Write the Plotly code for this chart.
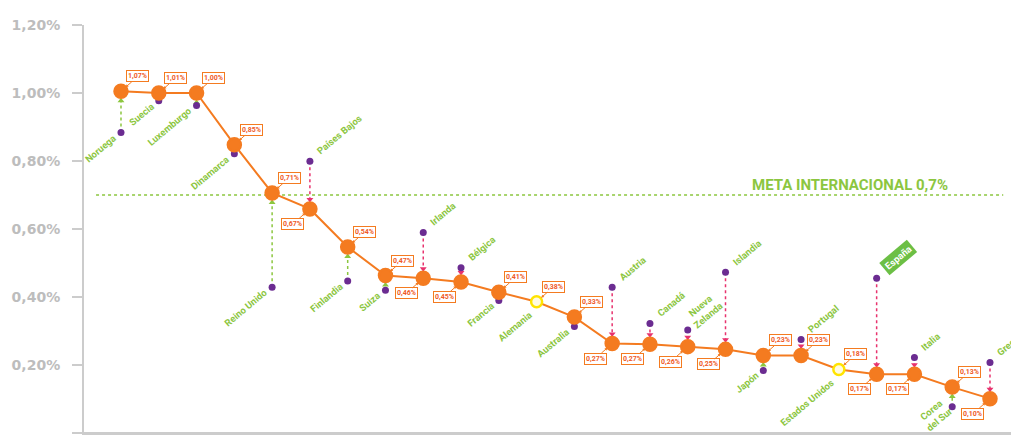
import plotly.graph_objects as go

# ---------------- data ----------------
countries = ["Noruega", "Suecia", "Luxemburgo", "Dinamarca", "Reino Unido", "Países Bajos",
             "Finlandia", "Suiza", "Irlanda", "Bélgica", "Francia", "Alemania", "Australia",
             "Austria", "Canadá", "Nueva<br>Zelanda", "Islandia", "Japón", "Portugal",
             "Estados Unidos", "España", "Italia", "Corea<br>del Sur", "Grecia"]
current = [1.005, 1.00, 1.00, 0.848, 0.706, 0.659, 0.547, 0.463, 0.455, 0.444, 0.414, 0.386,
           0.341, 0.263, 0.261, 0.254, 0.246, 0.228, 0.228, 0.187, 0.173, 0.173, 0.135, 0.101]
previous = [0.884, 0.977, 0.963, 0.821, 0.429, 0.799, 0.447, 0.420, 0.590, 0.486, 0.390, None,
            0.313, 0.429, 0.322, 0.303, 0.473, 0.184, 0.275, None, 0.455, 0.222, 0.077, 0.207]
value_labels = ["1,07%", "1,01%", "1,00%", "0,85%", "0,71%", "0,67%", "0,54%", "0,47%",
                "0,46%", "0,45%", "0,41%", "0,38%", "0,33%", "0,27%", "0,27%", "0,26%",
                "0,25%", "0,23%", "0,23%", "0,18%", "0,17%", "0,17%", "0,13%", "0,10%"]
highlight = "España"
meta_value = 0.70
meta_text = "META INTERNACIONAL 0,7%"
y_tickvals = [0, 0.2, 0.4, 0.6, 0.8, 1.0, 1.2]
y_ticktext = ["0", "0,20%", "0,40%", "0,60%", "0,80%", "1,00%", "1,20%"]

# ---------------- styles ----------------
ORANGE = "#f47b20"
PURPLE = "#6b2c91"
GREEN = "#8cc63f"
PINK = "#e8336e"
LABEL_RED = "#ef5a28"
AXIS_GRAY = "#cccccc"
PX_PER_UNIT = 340.4
head_off = 9.5 / PX_PER_UNIT
VALUE_LABEL_ABOVE = {"Portugal"}   # value box placed above-right despite a decrease

x = list(range(len(countries)))
fig = go.Figure()

# arrows (dotted lines from previous value to current)
gx, gy, px_, py_ = [], [], [], []
ghx, ghy, phx, phy = [], [], [], []
for i, (c, p) in enumerate(zip(current, previous)):
    if p is None or abs(c - p) < 0.035:
        continue
    if p < c:
        gx += [i, i, None]; gy += [p, c - head_off, None]
        ghx.append(i); ghy.append(c - head_off)
    else:
        px_ += [i, i, None]; py_ += [p, c + head_off, None]
        phx.append(i); phy.append(c + head_off)

fig.add_trace(go.Scatter(x=gx, y=gy, mode="lines", line=dict(color=GREEN, width=1.5, dash="dot"),
                         hoverinfo="skip", showlegend=False))
fig.add_trace(go.Scatter(x=px_, y=py_, mode="lines", line=dict(color=PINK, width=1.5, dash="dot"),
                         hoverinfo="skip", showlegend=False))
fig.add_trace(go.Scatter(x=ghx, y=ghy, mode="markers",
                         marker=dict(symbol="triangle-up", size=6, color=GREEN, opacity=1),
                         hoverinfo="skip", showlegend=False))
fig.add_trace(go.Scatter(x=phx, y=phy, mode="markers",
                         marker=dict(symbol="triangle-down", size=6, color=PINK, opacity=1),
                         hoverinfo="skip", showlegend=False))

# previous values (purple dots)
fig.add_trace(go.Scatter(x=[i for i, p in enumerate(previous) if p is not None],
                         y=[p for p in previous if p is not None], mode="markers",
                         marker=dict(size=7, color=PURPLE, opacity=1),
                         hoverinfo="skip", showlegend=False))

# current values line + dots
mcol = [ORANGE if p is not None else "#fffbe0" for p in previous]
mline = [ORANGE if p is not None else "#ffe400" for p in previous]
msize = [13 if p is not None else 11 for p in previous]
fig.add_trace(go.Scatter(x=x, y=current, mode="lines+markers",
                         line=dict(color=ORANGE, width=2),
                         marker=dict(size=msize, color=mcol, opacity=1,
                                     line=dict(color=mline, width=2.5)),
                         hoverinfo="skip", showlegend=False))

annotations = []
for i, (name, c, p, lab) in enumerate(zip(countries, current, previous, value_labels)):
    up = p is None or p <= c
    box_up = up or name in VALUE_LABEL_ABOVE
    # value label box
    annotations.append(dict(
        x=i, y=c, xref="x", yref="y", text="<b>" + lab + "</b>",
        showarrow=True, ax=17 if box_up else -17, ay=-15 if box_up else 15,
        arrowhead=2, arrowsize=0.6, arrowwidth=1, arrowcolor=ORANGE, standoff=6,
        font=dict(family="Roboto", size=7, color=LABEL_RED),
        bgcolor="white", bordercolor=ORANGE, borderwidth=1, borderpad=1))
    # country label
    anchor_y = p if p is not None else c
    is_hl = name == highlight
    multi = "<br>" in name
    if up:
        ann = dict(x=i, y=anchor_y, xanchor="right", yanchor="top",
                   xshift=5 if multi else 0,
                   yshift=(14 if multi else 3) if p is not None else -5)
    else:
        ann = dict(x=i, y=anchor_y, xanchor="left", yanchor="bottom",
                   xshift=-7 if multi else 2, yshift=-3 if multi else 2)
    ann.update(xref="x", yref="y", text="<b>" + name + "</b>", showarrow=False, textangle=-40,
               font=dict(family="Roboto", size=9.5, color="white" if is_hl else GREEN),
               align="center")
    if is_hl:
        ann.update(bgcolor="#6cbf45", borderpad=2)
    annotations.append(ann)

# meta text
annotations.append(dict(x=19.3, y=meta_value, xref="x", yref="y", yanchor="middle",
                        yshift=10, text="<b>" + meta_text + "</b>", showarrow=False,
                        font=dict(family="Roboto", size=15, color=GREEN)))

shapes = [
    dict(type="line", xref="x", yref="y", x0=-0.66, x1=23.35, y0=meta_value, y1=meta_value,
         line=dict(color=GREEN, width=1.5, dash="dot"), layer="below"),
    dict(type="line", xref="paper", yref="y", x0=-0.012, x1=1, y0=0, y1=0,
         line=dict(color=AXIS_GRAY, width=2)),
]

fig.update_layout(
    width=1011, height=435,
    margin=dict(l=84, r=0, t=25, b=1.5, autoexpand=False),
    paper_bgcolor="white", plot_bgcolor="white",
    annotations=annotations, shapes=shapes,
    xaxis=dict(range=[-0.979, 23.556], showticklabels=False, showgrid=False, zeroline=False,
               showline=True, linecolor=AXIS_GRAY, linewidth=2, ticks=""),
    yaxis=dict(range=[0, 1.2], tickvals=y_tickvals, ticktext=y_ticktext, ticks="outside",
               ticklen=10, tickwidth=2, tickcolor=AXIS_GRAY, showline=True, linecolor=AXIS_GRAY,
               linewidth=2, showgrid=False, zeroline=False, automargin=False,
               ticklabelstandoff=9,
               tickfont=dict(family="DejaVu Sans", size=14, color="#bdbdbd", weight="bold")),
)

fig.write_html("out.html")
